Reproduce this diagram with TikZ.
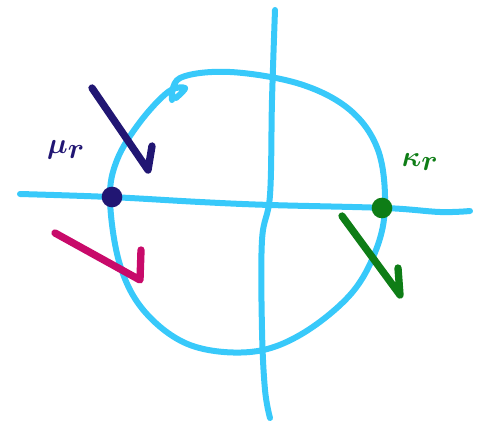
\documentclass[tikz,border=0pt]{standalone}
\usepackage{amsmath}
\usepackage{bm}
\usepackage{xcolor}
\definecolor{sky}{HTML}{38C9FA}
\definecolor{ink}{HTML}{211673}
\definecolor{leaf}{HTML}{0E7D16}
\definecolor{rose}{HTML}{C80A6A}
\usetikzlibrary{positioning}

\begin{document}
\begin{tikzpicture}[
  x=0.03cm, y=-0.03cm,
  sketch/.style={sky, line width=0.18cm, line cap=round, line join=round},
  pen/.style={line width=0.22cm, line cap=round, line join=round},
  blob/.style={circle, inner sep=0pt, minimum size=0.62cm},
  tag/.style={font=\fontsize{42}{42}\selectfont},
]
\useasboundingbox (0,0) rectangle (482,426);

% axes
\draw[sketch] plot[smooth, tension=0.6] coordinates
  {(20,194) (110,197) (200,202) (270,205) (385,208) (440,212) (470,211)};
\draw[sketch] plot[smooth, tension=0.6] coordinates
  {(275,10) (272,100) (270,195) (262,240) (262,330) (265,390) (270,418)};

% the loop
\draw[sketch] plot[smooth, tension=0.6] coordinates
  {(172,100) (180,78) (230,72) (300,84) (350,110) (378,150) (385,205)
   (376,250) (350,295) (300,335) (250,352) (190,345) (145,312) (120,265)
   (110,200) (117,160) (140,122) (168,92) (185,88) (176,98)};

% points on the loop
\node[blob, fill=ink] (mu) at (112,197) {};
\node[blob, fill=leaf] (kappa) at (382,208) {};
\node[tag, ink] (mulabel) at (66,150) {$\bm{\mu_r}$};
\node[tag, leaf] (kappalabel) at (420,162) {$\bm{\kappa_r}$};

% strokes
\draw[pen, ink] (92,88) -- (148,170) -- (152,146);
\draw[pen, leaf] (342,216) -- (400,295) -- (398,268);
\draw[pen, rose] (55,233) -- (140,280) -- (141,250);

\end{tikzpicture}
\end{document}
